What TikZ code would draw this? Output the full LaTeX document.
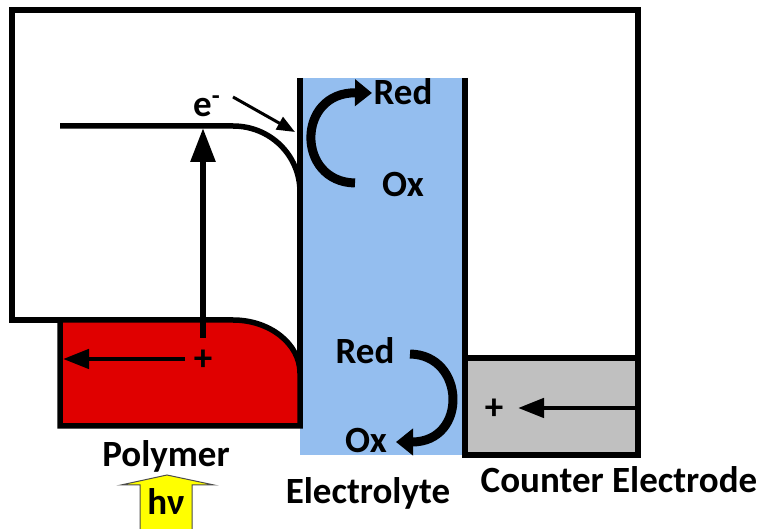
\documentclass[tikz,border=0pt]{standalone}
\usepackage{fontspec}
\setmainfont{Carlito}
\usetikzlibrary{arrows.meta,positioning,calc}
\definecolor{Electro}{HTML}{94BEEF}
\definecolor{PolyRed}{HTML}{E00000}
\definecolor{CounterGray}{HTML}{C0C0C0}
\definecolor{Photon}{HTML}{FFFF00}

\begin{document}
\begin{tikzpicture}[x=0.5pt,y=-0.5pt,
  wire/.style={line width=2.75pt,line join=miter},
  lbl/.style={font=\fontsize{18.5}{22}\selectfont\bfseries,inner sep=0pt,anchor=base},
  sign/.style={font=\fontsize{18.5}{22}\selectfont\bfseries,inner sep=0pt},
  lift/.style={line width=3pt,-{Triangle[length=17pt,width=12pt]}},
  push/.style={line width=2.3pt,-{Triangle[length=13pt,width=9.5pt]}},
  hop/.style={line width=1.5pt,-{Triangle[length=9pt,width=7pt]}},
  redox/.style={line width=4.5pt,-{Triangle[length=8.5pt,width=13pt]}},
]
\useasboundingbox (0,0) rectangle (768,529);

% electrolyte and counter electrode
\fill[Electro] (300,78) rectangle (465,455);
\filldraw[fill=CounterGray,wire] (465,358) rectangle (638,455);
% polymer with bent valence band
\filldraw[fill=PolyRed,wire] (60,320) -- (233,320) .. controls (270,320) and (300,344) .. (300,373)
  -- (300,426) -- (60,426) -- cycle;
% outer circuit
\draw[wire] (60,320) -- (12,320) -- (12,10) -- (638,10) -- (638,358);
\draw[wire] (300,78) -- (300,373);
\draw[wire] (465,78) -- (465,358);
% conduction band
\draw[wire] (60,126) -- (233,126) .. controls (270,126) and (300,155) .. (300,192);

% excitation
\coordinate (cbTop) at (203,128);
\coordinate (vbLow) at (203,338);
\draw[lift] (vbLow) -- (cbTop);
\node[lbl] (elec) at (207,117) {e\textsuperscript{-}};
\coordinate (hopFrom) at (233,97);
\coordinate (hopTo) at (295,132);
\draw[hop] (hopFrom) -- (hopTo);
\node[sign] (hole) at (203,360) {+};
\coordinate (holeTail) at (185,359);
\coordinate (polyEdge) at (63,359);
\draw[push] (holeTail) -- (polyEdge);

% redox couples
\node[lbl] (redTop) at (403,105) {Red};
\node[lbl] (oxTop) at (403,197) {Ox};
\coordinate (oxTopEnd) at (355,183);
\coordinate (redTopEnd) at (372,93);
\draw[redox] (oxTopEnd) .. controls (296,182) and (296,92) .. (redTopEnd);
\node[lbl] (redBot) at (365,364) {Red};
\node[lbl] (oxBot) at (366,453) {Ox};
\coordinate (redBotEnd) at (410,354);
\coordinate (oxBotEnd) at (396,442);
\draw[redox] (redBotEnd) .. controls (466,355) and (468,442) .. (oxBotEnd);

% counter electrode
\node[sign] (cePlus) at (494,409) {+};
\coordinate (ceEdge) at (636,408);
\coordinate (ceTip) at (518,408);
\draw[push] (ceEdge) -- (ceTip);

% labels
\node[lbl] (polymer) at (166,467) {Polymer};
\node[lbl] (electrolyte) at (368,504) {Electrolyte};
\node[lbl] (counter) at (619,493) {Counter Electrode};

% light
\fill[Photon] (140,532) -- (140,485) -- (121,485) -- (167,475) -- (214,485) -- (192,485) -- (192,532) -- cycle;
\draw[black!70,line width=0.5pt] (140,532) -- (140,485) -- (121,485) -- (167,475) -- (214,485) -- (192,485) -- (192,532);
\node[lbl] (photon) at (166,515) {hν};
\end{tikzpicture}
\end{document}
